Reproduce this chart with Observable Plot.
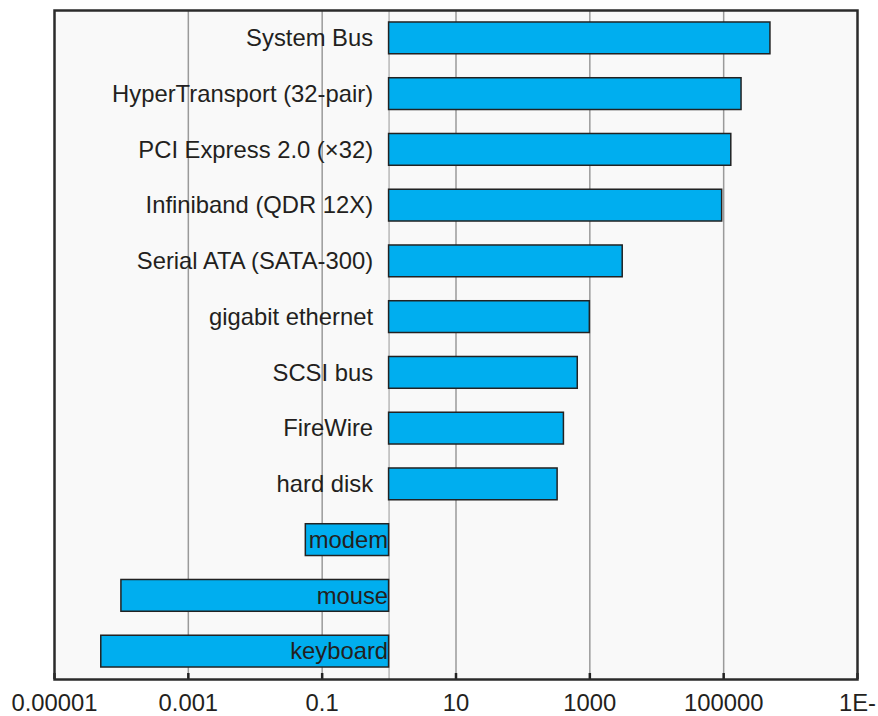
<!DOCTYPE html>
<html>
<head>
<meta charset="utf-8">
<script src="https://cdn.jsdelivr.net/npm/d3@7"></script>
<script src="https://cdn.jsdelivr.net/npm/@observablehq/plot@0.6"></script>
<style>
  html, body { margin: 0; padding: 0; background: #fff; }
  #chart svg { display: block; }
</style>
</head>
<body>
<div id="chart"></div>
<script>
const devices = ["System Bus", "HyperTransport (32-pair)", "PCI Express 2.0 (\u00d732)", "Infiniband (QDR 12X)",
  "Serial ATA (SATA-300)", "gigabit ethernet", "SCSI bus", "FireWire", "hard disk", "modem", "mouse", "keyboard"];
const rates = [500000, 185000, 130000, 95000, 3100, 1000, 660, 410, 330, 0.057, 0.0001, 0.00005];
const tickValues = [0.00001, 0.001, 0.1, 10, 1000, 100000, 10000000];
const tickLabels = ["0.00001", "0.001", "0.1", "10", "1000", "100000", "1E-"];
const gridValues = [0.001, 0.1, 10, 1000, 100000];
const baseline = [1];

const data = devices.map((d, i) => ({device: d, rate: rates[i]}));
const labelOf = new Map(tickValues.map((v, i) => [v, tickLabels[i]]));

const font = "'Liberation Sans', Arial, Helvetica, sans-serif";
const fs = 23.8;

const chart = Plot.plot({
  width: 878,
  height: 716,
  marginLeft: 54,
  marginRight: 21,
  marginTop: 10,
  marginBottom: 37,
  style: {fontFamily: font, background: "#fff"},
  x: {type: "log", domain: [0.00001, 10000000], axis: null},
  y: {domain: devices, axis: null, paddingInner: 0.43, paddingOuter: 0.215, round: false},
  marks: [
    Plot.frame({fill: "#f9f9f9"}),
    Plot.ruleX(gridValues, {stroke: "#9a9a9a", strokeWidth: 1.5}),
    Plot.ruleX(baseline, {stroke: "#b8b8b8", strokeWidth: 1.5}),
    Plot.barX(data, {
      y: "device",
      x1: d => Math.min(d.rate, 1),
      x2: d => Math.max(d.rate, 1),
      fill: "#00aeef",
      stroke: "#222",
      strokeWidth: 1.5
    }),
    Plot.text(data.filter(d => d.rate >= 1), {
      y: "device", x: () => 1, text: "device", textAnchor: "end", dx: -16,
      fontSize: fs, fill: "#231f20"
    }),
    Plot.text(data.filter(d => d.rate < 1), {
      y: "device", x: () => 1, text: "device", textAnchor: "end", dx: -1,
      fontSize: fs, fill: "#231f20"
    }),
    Plot.axisX({ticks: tickValues, tickSize: -6, text: null, stroke: "#222", strokeWidth: 2.5}),
    Plot.axisX({ticks: tickValues, tickSize: 0, tickPadding: 15, tickFormat: v => labelOf.get(v),
      fontSize: fs, fill: "#231f20"}),
    Plot.frame({stroke: "#2b2b2b", strokeWidth: 2.5})
  ]
});
document.getElementById("chart").appendChild(chart);
</script>
</body>
</html>
